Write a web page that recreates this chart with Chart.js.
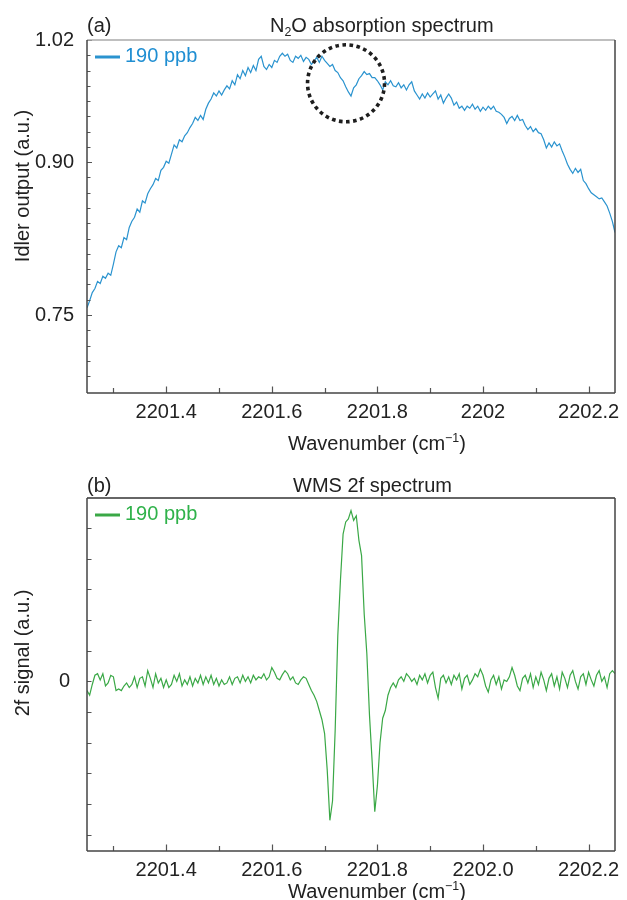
<!DOCTYPE html>
<html><head><meta charset="utf-8">
<script src="https://cdn.jsdelivr.net/npm/chart.js@4.4.1/dist/chart.umd.min.js"></script>
<style>
html,body{margin:0;padding:0;background:#fff;}
#wrap{position:relative;width:627px;height:900px;overflow:hidden;}
#p1{position:absolute;left:0;top:0;width:627px;height:465px;}
#p2{position:absolute;left:0;top:465px;width:627px;height:435px;}
</style></head><body>
<div id="wrap">
<div id="p1"><canvas id="c1" width="627" height="465"></canvas></div>
<div id="p2"><canvas id="c2" width="627" height="435"></canvas></div>
</div>
<script>
// ---------------- data ----------------
const wavenumber = [
2201.250,2201.255,2201.260,2201.265,2201.270,2201.275,2201.280,2201.285,2201.290,2201.295,
2201.300,2201.305,2201.310,2201.315,2201.320,2201.325,2201.330,2201.335,2201.340,2201.345,
2201.350,2201.355,2201.360,2201.365,2201.370,2201.375,2201.380,2201.385,2201.390,2201.395,
2201.400,2201.405,2201.410,2201.415,2201.420,2201.425,2201.430,2201.435,2201.440,2201.445,
2201.450,2201.455,2201.460,2201.465,2201.470,2201.475,2201.480,2201.485,2201.490,2201.495,
2201.500,2201.505,2201.510,2201.515,2201.520,2201.525,2201.530,2201.535,2201.540,2201.545,
2201.550,2201.555,2201.560,2201.565,2201.570,2201.575,2201.580,2201.585,2201.590,2201.595,
2201.600,2201.605,2201.610,2201.615,2201.620,2201.625,2201.630,2201.635,2201.640,2201.645,
2201.650,2201.655,2201.660,2201.665,2201.670,2201.675,2201.680,2201.685,2201.690,2201.695,
2201.700,2201.705,2201.710,2201.715,2201.720,2201.725,2201.730,2201.735,2201.740,2201.745,
2201.750,2201.755,2201.760,2201.765,2201.770,2201.775,2201.780,2201.785,2201.790,2201.795,
2201.800,2201.805,2201.810,2201.815,2201.820,2201.825,2201.830,2201.835,2201.840,2201.845,
2201.850,2201.855,2201.860,2201.865,2201.870,2201.875,2201.880,2201.885,2201.890,2201.895,
2201.900,2201.905,2201.910,2201.915,2201.920,2201.925,2201.930,2201.935,2201.940,2201.945,
2201.950,2201.955,2201.960,2201.965,2201.970,2201.975,2201.980,2201.985,2201.990,2201.995,
2202.000,2202.005,2202.010,2202.015,2202.020,2202.025,2202.030,2202.035,2202.040,2202.045,
2202.050,2202.055,2202.060,2202.065,2202.070,2202.075,2202.080,2202.085,2202.090,2202.095,
2202.100,2202.105,2202.110,2202.115,2202.120,2202.125,2202.130,2202.135,2202.140,2202.145,
2202.150,2202.155,2202.160,2202.165,2202.170,2202.175,2202.180,2202.185,2202.190,2202.195,
2202.200,2202.205,2202.210,2202.215,2202.220,2202.225,2202.230,2202.235,2202.240,2202.245,
2202.250
];

// (a) idler output, a.u.
const idlerOutput = [
0.757,0.764,0.772,0.776,0.783,0.781,0.788,0.786,0.791,0.789,
0.800,0.812,0.818,0.816,0.826,0.824,0.836,0.842,0.846,
0.854,0.851,0.862,0.860,0.869,0.874,0.878,0.884,0.882,0.892,
0.895,0.901,0.899,0.908,0.917,0.914,0.922,0.920,0.926,
0.929,0.934,0.938,0.944,0.941,0.946,0.942,0.952,0.958,0.962,
0.968,0.965,0.970,0.966,0.971,0.975,0.972,0.980,0.976,
0.986,0.982,0.990,0.985,0.993,0.988,0.995,0.990,1.001,1.004,
0.994,0.991,0.996,0.993,1.000,0.998,1.004,1.007,1.004,
1.006,1.000,0.998,1.004,1.002,1.005,0.999,1.003,1.001,
0.996,0.999,1.003,0.998,1.004,1.000,0.997,0.994,0.996,0.990,
0.988,0.983,0.980,0.974,0.969,0.965,0.973,0.976,0.982,0.985,
0.989,0.986,0.987,0.983,0.983,0.980,0.976,0.971,0.979,0.976,
0.980,0.975,0.974,0.978,0.973,0.976,0.971,0.976,0.979,
0.970,0.966,0.962,0.967,0.963,0.968,0.964,0.967,0.970,0.962,
0.966,0.958,0.963,0.967,0.963,0.956,0.959,0.953,0.955,
0.951,0.955,0.953,0.957,0.952,0.955,0.950,0.954,0.951,0.955,
0.952,0.955,0.950,0.949,0.947,0.944,0.938,0.943,0.945,
0.941,0.946,0.941,0.942,0.936,0.932,0.935,0.930,0.933,0.929,
0.928,0.922,0.914,0.919,0.915,0.920,0.916,0.918,0.911,
0.905,0.898,0.893,0.889,0.894,0.890,0.893,0.882,0.879,0.874,
0.870,0.868,0.866,0.864,0.865,0.861,0.857,0.850,0.842,0.831
];

// (b) WMS 2f signal, a.u. (tick units)
const wms2fSignal = [
-0.30,-0.45,-0.10,0.20,0.25,0.05,0.25,-0.15,-0.05,0.20,
0.15,-0.30,-0.25,-0.30,-0.15,-0.05,-0.20,-0.10,0.15,
-0.20,0.10,0.15,-0.15,0.35,0.10,-0.20,0.25,-0.05,0.10,
-0.20,0.05,-0.20,-0.10,0.20,0.00,0.25,-0.15,0.05,
-0.10,0.15,-0.15,0.10,-0.05,0.20,-0.10,0.15,-0.05,0.20,
-0.10,0.10,-0.15,0.05,-0.10,-0.05,0.15,-0.10,0.10,
0.15,-0.05,0.20,0.00,0.15,-0.05,0.20,0.05,0.15,0.10,
0.25,0.05,0.15,0.45,0.30,0.10,0.05,0.22,0.35,
0.25,0.05,0.15,-0.05,-0.10,0.05,0.15,0.10,-0.10,
-0.30,-0.45,-0.65,-0.95,-1.25,-1.70,-2.90,-4.53,-3.90,-1.60,
1.50,3.30,4.80,5.20,5.30,5.57,5.25,5.40,4.60,4.10,
2.20,0.90,-1.10,-2.60,-4.25,-3.40,-2.00,-1.20,-0.95,-0.45,
-0.20,-0.05,-0.20,0.05,0.15,0.00,0.25,0.15,0.00,
0.10,-0.10,0.20,0.05,0.25,-0.05,0.20,0.30,-0.20,-0.55,
0.10,0.20,-0.05,0.15,-0.10,0.20,0.05,0.25,-0.25,
0.10,0.20,-0.10,0.05,0.25,0.15,0.40,0.20,-0.15,-0.35,
0.05,0.20,-0.10,0.15,-0.25,0.05,0.00,0.15,0.45,
0.20,-0.15,-0.30,0.10,0.20,-0.05,0.25,-0.20,0.15,-0.10,
0.30,0.05,-0.30,0.10,0.25,-0.15,0.15,-0.25,0.30,
0.10,-0.20,0.20,0.35,0.00,-0.25,0.15,0.25,-0.10,0.30,
0.05,-0.15,0.20,0.35,0.00,0.15,-0.20,0.25,0.35,0.25
];

const seriesLabel = '190 ppb';
const xMajorTicks = [2201.4, 2201.6, 2201.8, 2202.0, 2202.2];
const xMinorTicks = [2201.3, 2201.5, 2201.7, 2201.9, 2202.1];
const xTickLabelsA = ['2201.4','2201.6','2201.8','2202','2202.2'];
const xTickLabelsB = ['2201.4','2201.6','2201.8','2202.0','2202.2'];
const yMajorTicksA = [0.75, 0.90, 1.02];
const yTickLabelsA = ['0.75','0.90','1.02'];
const yMinorTicksA = [0.69,0.705,0.72,0.735,0.765,0.78,0.795,0.81,0.825,0.84,0.855,0.87,0.885,0.915,0.93,0.945,0.96,0.975,0.99,1.005];
const yMajorTicksB = [0];
const yTickLabelsB = ['0'];
const yMinorTicksB = [-5,-4,-3,-2,-1,1,2,3,4,5];
// circled absorption feature in (a): centre in data units
const circleCentre = {x: 2201.7406, y: 0.9775};

// ---------------- drawing ----------------
const FAM = '"Liberation Sans", Arial, Helvetica, sans-serif';
Chart.defaults.font.family = FAM;
Chart.defaults.font.size = 20;
Chart.defaults.color = '#222';

function tickSetup(major, minor, labels) {
  return {
    afterBuildTicks(scale) {
      scale.ticks = major.concat(minor).sort((a, b) => a - b)
        .map(v => ({value: v, isMajor: major.some(m => Math.abs(m - v) < 1e-9)}));
    },
    callback(value) {
      const i = major.findIndex(m => Math.abs(m - value) < 1e-9);
      return i >= 0 ? labels[i] : '';
    }
  };
}

function drawRich(ctx, segs, x, y, size, color, rotate) {
  const parts = segs.map(s => {
    const sz = s.s ? size * 0.62 : size;
    ctx.font = sz + 'px ' + FAM;
    return {t: s.t, sz, dy: s.s === 'sub' ? size * 0.22 : (s.s === 'sup' ? -size * 0.38 : 0), w: ctx.measureText(s.t).width};
  });
  const total = parts.reduce((q, p) => q + p.w, 0);
  ctx.save();
  ctx.fillStyle = color; ctx.textBaseline = 'alphabetic'; ctx.textAlign = 'left';
  ctx.translate(x, y);
  let sx = 0;
  if (rotate) { ctx.rotate(-Math.PI / 2); sx = -total / 2; }
  parts.forEach(p => { ctx.font = p.sz + 'px ' + FAM; ctx.fillText(p.t, sx, p.dy); sx += p.w; });
  ctx.restore();
}

const decor = {
  id: 'decor',
  afterDatasetsDraw(chart, args, o) {
    const ctx = chart.ctx, a = chart.chartArea, xs = chart.scales.x, ys = chart.scales.y;
    ctx.save();
    // inward ticks
    ctx.strokeStyle = '#555'; ctx.lineWidth = 1.2;
    ctx.beginPath();
    xs.ticks.forEach(t => {
      const p = Math.round(xs.getPixelForValue(t.value)) + 0.5;
      const L = t.isMajor ? o.xMajorLen : o.xMinorLen;
      ctx.moveTo(p, a.bottom); ctx.lineTo(p, a.bottom - L);
    });
    ys.ticks.forEach(t => {
      const p = Math.round(ys.getPixelForValue(t.value)) + 0.5;
      const L = t.isMajor ? o.yMajorLen : o.yMinorLen;
      ctx.moveTo(a.left, p); ctx.lineTo(a.left + L, p);
    });
    ctx.stroke();
    // frame
    ctx.lineWidth = 1.5;
    const seg = (c, x1, y1, x2, y2) => { ctx.strokeStyle = c; ctx.beginPath(); ctx.moveTo(x1, y1); ctx.lineTo(x2, y2); ctx.stroke(); };
    seg(o.topColor, a.left, a.top, a.right, a.top);
    seg(o.frameColor, a.right, a.top, a.right, a.bottom);
    seg(o.frameColor, a.left, a.bottom, a.right, a.bottom);
    seg(o.frameColor, a.left, a.top, a.left, a.bottom);
    // dotted circle
    if (o.circle) {
      const cx = xs.getPixelForValue(o.circle.x), cy = ys.getPixelForValue(o.circle.y);
      ctx.strokeStyle = '#1e1e1e'; ctx.lineWidth = 3.6; ctx.setLineDash([3.6, 3.5]);
      ctx.beginPath(); ctx.arc(cx, cy, 38.5, 0, Math.PI * 2); ctx.stroke();
      ctx.setLineDash([]);
    }
    // legend
    ctx.strokeStyle = o.lineColor; ctx.lineWidth = 3;
    ctx.beginPath(); ctx.moveTo(95, o.legendY); ctx.lineTo(120, o.legendY); ctx.stroke();
    ctx.restore();
    drawRich(ctx, [{t: seriesLabel}], 125, o.legendY + 5, 20, o.textColor, false);
    // texts
    o.texts.forEach(t => drawRich(ctx, t.segs, t.x, t.y, t.size || 20, '#222', t.rotate));
  }
};

function makeChart(id, values, color, textColor, cfg) {
  const xt = tickSetup(xMajorTicks, xMinorTicks, cfg.xLabels);
  const yt = tickSetup(cfg.yMajor, cfg.yMinor, cfg.yLabels);
  return new Chart(document.getElementById(id), {
    type: 'line',
    data: {
      datasets: [{
        label: seriesLabel,
        data: wavenumber.map((w, i) => ({x: w, y: values[i]})),
        borderColor: color, borderWidth: 1.2, pointRadius: 0, tension: 0, fill: false
      }]
    },
    options: {
      responsive: false, animation: false, devicePixelRatio: 1,
      layout: {padding: {top: cfg.padTop, right: 12, left: 0, bottom: 0}},
      plugins: {
        legend: {display: false}, tooltip: {enabled: false},
        decor: {
          xMajorLen: 6.5, xMinorLen: 5, yMajorLen: cfg.yMajorLen, yMinorLen: cfg.yMinorLen,
          topColor: cfg.topColor, frameColor: '#444', lineColor: color, textColor: textColor,
          legendY: cfg.legendY, circle: cfg.circle, texts: cfg.texts
        }
      },
      scales: {
        x: {
          type: 'linear', min: 2201.25, max: 2202.25,
          afterBuildTicks: xt.afterBuildTicks,
          afterFit(s) { s.height = cfg.xHeight; },
          grid: {display: false}, border: {display: false},
          ticks: {callback: xt.callback, autoSkip: false, maxRotation: 0, minRotation: 0, padding: -1, color: '#222', font: {size: 20}}
        },
        y: {
          type: 'linear', min: cfg.yMin, max: cfg.yMax,
          afterBuildTicks: yt.afterBuildTicks,
          afterFit(s) { s.width = 87; },
          grid: {display: false}, border: {display: false},
          ticks: {callback: yt.callback, autoSkip: false, padding: cfg.yPad, color: '#222', font: {size: 20}}
        }
      }
    },
    plugins: [decor]
  });
}

makeChart('c1', idlerOutput, '#2a93cf', '#1f8ed2', {
  xLabels: xTickLabelsA, yMajor: yMajorTicksA, yMinor: yMinorTicksA, yLabels: yTickLabelsA,
  yMin: 0.6734, yMax: 1.02, padTop: 40, xHeight: 72, yPad: 5, yMajorLen: 5, yMinorLen: 3.5,
  topColor: '#aaaaaa', legendY: 57, circle: circleCentre,
  texts: [
    {segs: [{t: '(a)'}], x: 87, y: 32},
    {segs: [{t: 'N'}, {t: '2', s: 'sub'}, {t: 'O absorption spectrum'}], x: 270, y: 32},
    {segs: [{t: 'Wavenumber (cm'}, {t: '\u22121', s: 'sup'}, {t: ')'}], x: 288, y: 450},
    {segs: [{t: 'Idler output (a.u.)'}], x: 29, y: 186, rotate: true}
  ]
});

makeChart('c2', wms2fSignal, '#3aa846', '#2fb24a', {
  xLabels: xTickLabelsB, yMajor: yMajorTicksB, yMinor: yMinorTicksB, yLabels: yTickLabelsB,
  yMin: -5.53, yMax: 5.98, padTop: 33, xHeight: 49, yPad: 9, yMajorLen: 4.5, yMinorLen: 4.5,
  topColor: '#333333', legendY: 50, circle: null,
  texts: [
    {segs: [{t: '(b)'}], x: 87, y: 27},
    {segs: [{t: 'WMS 2f spectrum'}], x: 293, y: 27},
    {segs: [{t: 'Wavenumber (cm'}, {t: '\u22121', s: 'sup'}, {t: ')'}], x: 288, y: 433},
    {segs: [{t: '2f signal (a.u.)'}], x: 29, y: 188, rotate: true}
  ]
});
</script>
</body></html>
